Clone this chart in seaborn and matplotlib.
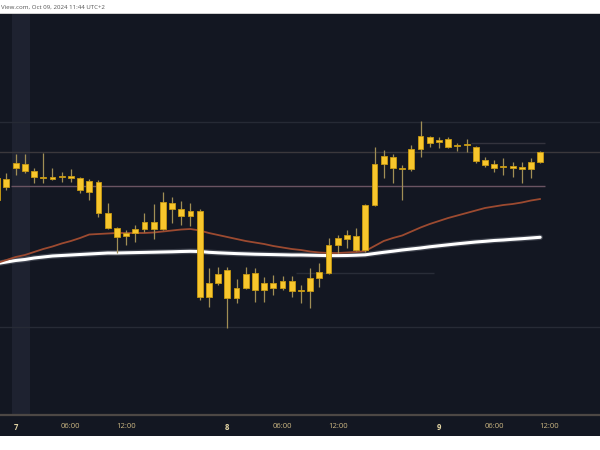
import numpy as np
import pandas as pd
import matplotlib
matplotlib.use("Agg")
import matplotlib.pyplot as plt
import seaborn as sns
from matplotlib.patches import Rectangle

# hourly bars, index 0 = Oct 7 00:00 (23 bars per trading day)
bar_idx = list(range(-2, 58))

opens = [148.00, 148.13, 148.32, 148.36, 148.29, 148.23, 148.21, 148.23, 148.24, 148.22,
         148.08, 148.18, 147.87, 147.72, 147.64, 147.67, 147.71, 147.78, 147.71, 147.97,
         147.91, 147.84, 147.89, 147.03, 147.17, 147.30, 147.02, 147.12, 147.27, 147.10,
         147.17, 147.12, 147.19, 147.09, 147.09, 147.22, 147.27, 147.55, 147.61, 147.64,
         147.50, 147.95, 148.36, 148.43, 148.32, 148.31, 148.51, 148.63, 148.58, 148.61,
         148.54, 148.55, 148.53, 148.40, 148.36, 148.33, 148.34, 148.31, 148.31, 148.38]
highs = [148.30, 148.27, 148.46, 148.46, 148.32, 148.47, 148.32, 148.28, 148.31, 148.23,
         148.21, 148.20, 147.97, 147.73, 147.70, 147.75, 147.87, 147.96, 148.08, 148.03,
         147.99, 147.97, 147.91, 147.32, 147.33, 147.33, 147.21, 147.33, 147.32, 147.23,
         147.25, 147.24, 147.24, 147.15, 147.32, 147.37, 147.62, 147.65, 147.70, 147.72,
         147.96, 148.53, 148.50, 148.46, 148.35, 148.55, 148.79, 148.64, 148.63, 148.63,
         148.57, 148.61, 148.54, 148.43, 148.40, 148.42, 148.38, 148.38, 148.42, 148.49]
lows = [147.95, 148.10, 148.25, 148.27, 148.17, 148.17, 148.20, 148.18, 148.18, 148.07,
        148.00, 147.83, 147.71, 147.47, 147.55, 147.58, 147.68, 147.61, 147.70, 147.77,
        147.75, 147.74, 147.00, 146.93, 147.15, 146.72, 146.97, 147.11, 146.98, 146.98,
        147.05, 147.10, 147.03, 146.97, 146.92, 147.13, 147.26, 147.47, 147.52, 147.49,
        147.48, 147.94, 148.22, 148.17, 148.00, 148.29, 148.43, 148.53, 148.52, 148.52,
        148.49, 148.48, 148.37, 148.33, 148.28, 148.25, 148.23, 148.17, 148.22, 148.37]
closes = [148.22, 148.21, 148.37, 148.29, 148.23, 148.22, 148.23, 148.24, 148.22, 148.10,
          148.19, 147.87, 147.72, 147.63, 147.67, 147.71, 147.78, 147.71, 147.98, 147.91,
          147.84, 147.89, 147.03, 147.17, 147.26, 147.02, 147.12, 147.26, 147.10, 147.17,
          147.12, 147.19, 147.09, 147.10, 147.22, 147.28, 147.55, 147.62, 147.65, 147.50,
          147.95, 148.36, 148.44, 148.32, 148.31, 148.51, 148.64, 148.57, 148.60, 148.53,
          148.55, 148.56, 148.39, 148.35, 148.32, 148.34, 148.32, 148.33, 148.38, 148.48]

ma_fast = [147.370, 147.400, 147.430, 147.450, 147.480, 147.510, 147.535, 147.565, 147.590, 147.620,
           147.655, 147.660, 147.665, 147.670, 147.670, 147.670, 147.670, 147.675, 147.685, 147.695,
           147.705, 147.710, 147.695, 147.670, 147.650, 147.630, 147.610, 147.590, 147.575, 147.560,
           147.540, 147.525, 147.510, 147.500, 147.485, 147.475, 147.470, 147.470, 147.475, 147.480,
           147.490, 147.540, 147.590, 147.620, 147.645, 147.685, 147.725, 147.760, 147.790, 147.820,
           147.845, 147.870, 147.895, 147.920, 147.935, 147.950, 147.960, 147.975, 147.995, 148.010]
ma_slow = [147.365, 147.380, 147.395, 147.405, 147.420, 147.430, 147.440, 147.445, 147.450, 147.455,
           147.460, 147.465, 147.470, 147.470, 147.472, 147.474, 147.476, 147.478, 147.480, 147.482,
           147.485, 147.487, 147.485, 147.477, 147.472, 147.468, 147.464, 147.461, 147.458, 147.456,
           147.454, 147.452, 147.450, 147.450, 147.448, 147.446, 147.444, 147.444, 147.445, 147.448,
           147.452, 147.465, 147.477, 147.488, 147.500, 147.510, 147.520, 147.532, 147.542, 147.552,
           147.562, 147.571, 147.580, 147.587, 147.595, 147.600, 147.607, 147.613, 147.620, 147.627]

# horizontal levels drawn on the chart
levels = [148.785, 148.48, 148.14, 148.575, 147.27, 146.73]
level_from = [-2, -2, 0, 50, 31, -2]
level_to = [64, 64, 57, 57, 45, 64]
level_colors = ["#262a35", "#3b383c", "#6a5462", "#33333d", "#292d38", "#272b36"]

tick_bars = [0, 6, 12, 23, 29, 35, 46, 52, 58]
tick_labels = ["7", "06:00", "12:00", "8", "06:00", "12:00", "9", "06:00", "12:00"]

df = pd.DataFrame({"bar": bar_idx, "open": opens, "high": highs, "low": lows,
                   "close": closes, "fast": ma_fast, "slow": ma_slow})

sns.set_theme(style="dark", rc={"axes.facecolor": "#131722", "figure.facecolor": "white"})
plt.rcParams["font.family"] = ["Open Sans", "DejaVu Sans"]

fig = plt.figure(figsize=(6, 4.5), dpi=100)
fig.patches.append(Rectangle((0, 14 / 450), 1, 422 / 450, transform=fig.transFigure,
                             facecolor="#131722", edgecolor="none", zorder=-2))
fig.patches.append(Rectangle((0, 436 / 450 - 0.001), 1, 0.003, transform=fig.transFigure,
                             facecolor="#cfcfcf", edgecolor="none", zorder=-1))
ax = fig.add_axes([0, 35 / 450, 1, 401 / 450])
ax.set_zorder(2)
ax.set_facecolor("#131722")

# session highlight
ax.axvspan(-0.35, 1.6, color="#1e2230", zorder=0.5, lw=0)

for lv, a, b, c in zip(levels, level_from, level_to, level_colors):
    ax.hlines(lv, a - 0.5, b + 0.5 if b < 60 else b, color=c, lw=1.0, zorder=1)

# moving averages
sns.lineplot(data=df, x="bar", y="slow", ax=ax, color="#8a8f99", lw=4.0, alpha=0.35, zorder=2)
sns.lineplot(data=df, x="bar", y="slow", ax=ax, color="white", lw=2.2, zorder=3)
sns.lineplot(data=df, x="bar", y="fast", ax=ax, color="#9c4a30", lw=1.3, zorder=3)

# candles
ax.vlines(df["bar"], df["low"], df["high"], color="#a08e55", lw=0.9, zorder=4)
body_lo = np.minimum(df["open"], df["close"])
body_h = np.maximum(np.abs(df["close"] - df["open"]), 0.012)
ax.bar(df["bar"], body_h, bottom=body_lo, width=0.64, color="#f8c62c",
       edgecolor="#c89a12", linewidth=0.6, zorder=5)

ax.set_xlim(-1.7, 63.5)
ax.set_ylim(145.85, 149.86)
ax.set_xticks(tick_bars)
ax.set_xticklabels(tick_labels)
ax.set_yticks([])
ax.set_xlabel("")
ax.set_ylabel("")
ax.grid(False)
ax.tick_params(axis="x", length=0, pad=5.5, labelsize=5.5, colors="#cdb883")
for lab in ax.get_xticklabels():
    if ":" not in lab.get_text():
        lab.set_fontweight("bold")
        lab.set_color("#e2d4a4")
for side in ["top", "left", "right"]:
    ax.spines[side].set_visible(False)
ax.spines["bottom"].set_color("#4d4845")
ax.spines["bottom"].set_linewidth(1.6)

fig.text(0.002, 1 - 7.5 / 450, "View.com, Oct 09, 2024 11:44 UTC+2", fontsize=4.4,
         color="#555555", va="center", ha="left")

fig.savefig("out.png", dpi=100)
